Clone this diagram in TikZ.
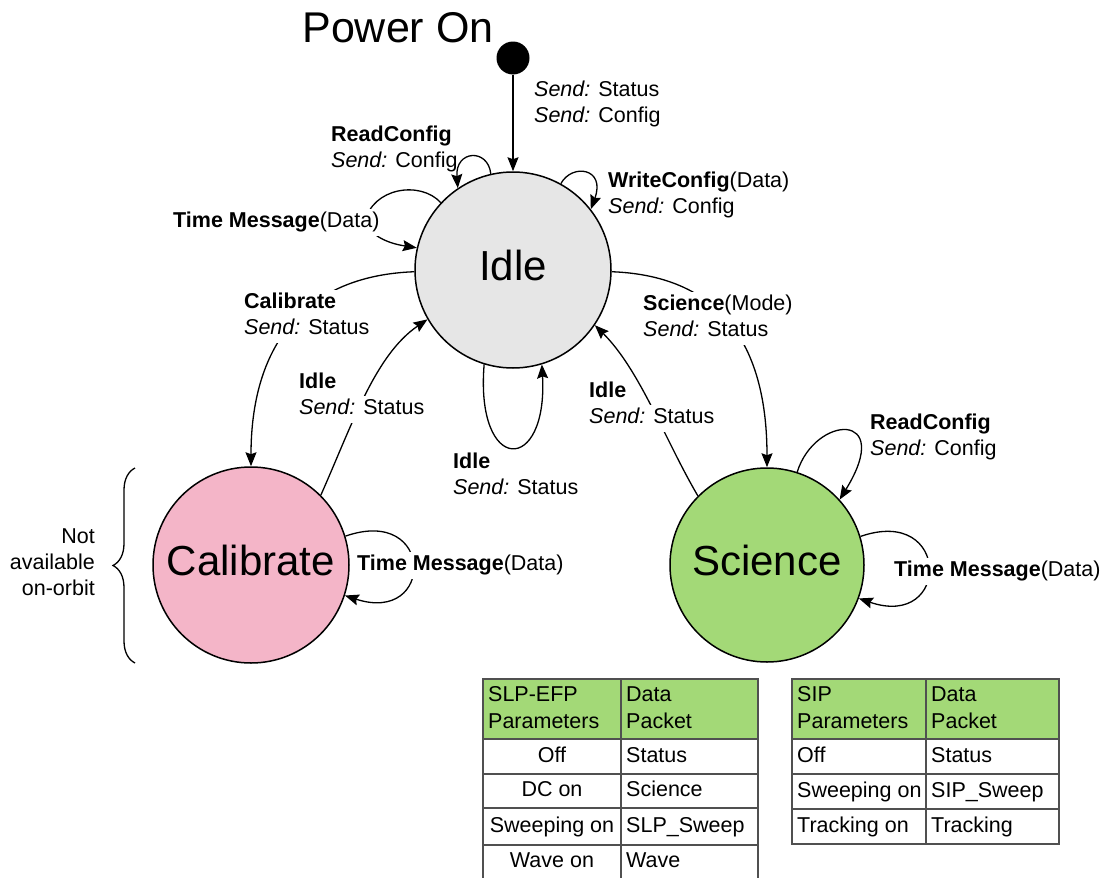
\documentclass[tikz,border=0pt]{standalone}
\usepackage{fontspec}
\setmainfont{Liberation Sans}
\usetikzlibrary{arrows.meta,decorations.pathreplacing}
\definecolor{idlegray}{HTML}{E6E6E6}
\definecolor{calpink}{HTML}{F4B5C8}
\definecolor{scigreen}{HTML}{A3D977}
\definecolor{tblline}{HTML}{505050}
\begin{document}
\begin{tikzpicture}[x=1pt,y=-1pt,
  state/.style={circle, draw=black, line width=1.5pt, minimum size=196pt, inner sep=0pt,
    font=\fontsize{42}{48}\selectfont, text depth=10pt},
  edge/.style={line width=1.3pt, -{Stealth[length=14pt,width=11pt,inset=2pt]}},
  lbl/.style={anchor=base west, inner xsep=1pt, inner ysep=2pt, text height=17pt, text depth=6pt,
    font=\fontsize{21.5}{26}\selectfont},
  lblw/.style={lbl, fill=white},
  lblr/.style={lbl, anchor=base east},
  cell/.style={anchor=base west, inner sep=0pt, font=\fontsize{21.5}{26}\selectfont},
  cellc/.style={cell, anchor=base},
  tbl/.style={draw=tblline, line width=1.3pt}
]
\useasboundingbox (0,0) rectangle (1109,878);

% states
\node[font=\fontsize{43}{50}\selectfont, inner sep=0pt] (pwrtxt) at (398,28) {Power On};
\node[circle, fill=black, minimum size=33pt, inner sep=0pt] (start) at (513,58) {};
\node[state, fill=idlegray] (idle) at (513,270) {Idle};
\node[state, fill=calpink] (cal) at (251,565) {Calibrate};
\node[state, fill=scigreen, minimum size=194pt] (sci) at (767,565) {Science};

% connectors
\draw[edge] (start) -- (idle);
\draw[edge] (idle.103) .. controls (488,148) and (455,150) .. (idle.124);
\draw[edge] (idle.61) .. controls (572,163) and (606,168) .. (idle.38);
\draw[edge] (idle.137) .. controls (420,180) and (372,188) .. (365,222)
  .. controls (372,238) and (392,244) .. (idle.167);
\draw[edge] (idle.181) .. controls (300,276) and (251,350) .. (cal.90);
\draw[edge] (idle.-1) .. controls (725,276) and (767,350) .. (sci.90);
\draw[edge] (cal.45) .. controls (352,425) and (375,355) .. (idle.210);
\draw[edge] (sci.135) .. controls (665,440) and (640,370) .. (idle.-34);
\draw[edge] (idle.253) .. controls (475,475) and (548,475) .. (idle.287);
\draw[edge] (cal.17) .. controls (435,505) and (435,625) .. (cal.-18);
\draw[edge] (sci.17) .. controls (951,505) and (951,630) .. (sci.-20);
\draw[edge] (sci.72) .. controls (815,415) and (895,410) .. (sci.42);

% labels
\node[lbl] (pw1) at (533,96.7) {\textit{Send:} Status};
\node[lbl] (pw2) at (533,122.7) {\textit{Send:} Config};
\node[lbl] (rc1) at (330,141.7) {\textbf{ReadConfig}};
\node[lbl] (rc2) at (330,167.7) {\textit{Send:} Config};
\node[lbl] (wc1) at (607,187.7) {\textbf{WriteConfig}(Data)};
\node[lbl] (wc2) at (607,213.7) {\textit{Send:} Config};
\node[lblw] (tm1) at (172,227.7) {\textbf{Time Message}(Data)};
\node[lblw] (ca1) at (243,308.7) {\textbf{Calibrate}};
\node[lblw] (ca2) at (243,334.7) {\textit{Send:} Status};
\node[lblw] (sc1) at (642,310.7) {\textbf{Science}(Mode)};
\node[lblw] (sc2) at (642,336.7) {\textit{Send:} Status};
\node[lblw] (ic1) at (298,388.7) {\textbf{Idle}};
\node[lblw] (ic2) at (298,414.7) {\textit{Send:} Status};
\node[lblw] (is1) at (588,397.7) {\textbf{Idle}};
\node[lblw] (is2) at (588,423.7) {\textit{Send:} Status};
\node[lbl] (ii1) at (452,468.7) {\textbf{Idle}};
\node[lbl] (ii2) at (452,494.7) {\textit{Send:} Status};
\node[lbl] (sr1) at (869,429.7) {\textbf{ReadConfig}};
\node[lbl] (sr2) at (869,455.7) {\textit{Send:} Config};
\node[lblw] (tm2) at (356,570.7) {\textbf{Time Message}(Data)};
\node[lblw] (tm3) at (893,576.7) {\textbf{Time Message}(Data)};

% brace and note
\coordinate (brb) at (135,663);
\coordinate (brt) at (135,468);
\draw[line width=1.3pt, decorate, decoration={brace, amplitude=22pt}] (brb) -- (brt);
\node[lblr] (n1) at (96,543.7) {Not};
\node[lblr] (n2) at (96,569.7) {available};
\node[lblr] (n3) at (96,595.7) {on-orbit};

% table 1
\fill[scigreen] (483,679) rectangle (758,739);
\draw[tbl] (483,880) -- (483,679) -- (758,679) -- (758,880);
\draw[tbl] (621,679) -- (621,880);
\draw[tbl] (483,739) -- (758,739);
\draw[tbl] (483,774) -- (758,774);
\draw[tbl] (483,808) -- (758,808);
\draw[tbl] (483,845) -- (758,845);
\node[cell] (a11) at (488,701.7) {SLP-EFP};
\node[cell] (a12) at (488,728) {Parameters};
\node[cell] (a13) at (626,701.7) {Data};
\node[cell] (a14) at (626,728) {Packet};
\node[cellc] (a21) at (552,762) {Off};
\node[cell] (a22) at (626,762) {Status};
\node[cellc] (a31) at (552,796) {DC on};
\node[cell] (a32) at (626,796) {Science};
\node[cellc] (a41) at (552,832) {Sweeping on};
\node[cell] (a42) at (626,832) {SLP\_Sweep};
\node[cellc] (a51) at (552,867) {Wave on};
\node[cell] (a52) at (626,867) {Wave};

% table 2
\fill[scigreen] (792,679) rectangle (1059,739);
\draw[tbl] (792,679) rectangle (1059,844);
\draw[tbl] (926,679) -- (926,844);
\draw[tbl] (792,739) -- (1059,739);
\draw[tbl] (792,774) -- (1059,774);
\draw[tbl] (792,809) -- (1059,809);
\node[cell] (b11) at (797,701.7) {SIP};
\node[cell] (b12) at (797,728) {Parameters};
\node[cell] (b13) at (931,701.7) {Data};
\node[cell] (b14) at (931,728) {Packet};
\node[cell] (b21) at (797,762) {Off};
\node[cell] (b22) at (931,762) {Status};
\node[cell] (b31) at (797,797) {Sweeping on};
\node[cell] (b32) at (931,797) {SIP\_Sweep};
\node[cell] (b41) at (797,832) {Tracking on};
\node[cell] (b42) at (931,832) {Tracking};
\end{tikzpicture}
\end{document}
